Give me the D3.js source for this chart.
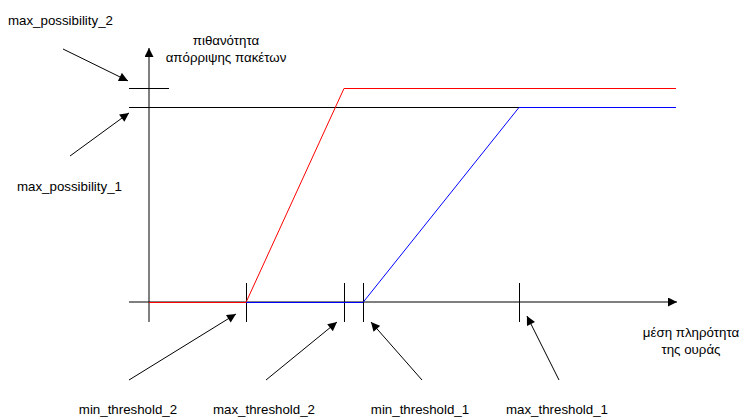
<!DOCTYPE html>
<html>
<head>
<meta charset="utf-8">
<script src="https://cdn.jsdelivr.net/npm/d3@7"></script>
<style>
	body { margin: 0; background: #fff; }
	text { font-family: Arial, "Liberation Sans", sans-serif; font-size: 13.3px; fill: #000; }
</style>
</head>
<body>
<div id="plot"></div>
<script>

///////////////////////////////////////////////////////////////////////
// values (queue fill on x, drop probability on y)

const thresholds = [
	{ name: "min_threshold_2", value: 18.4 },
	{ name: "max_threshold_2", value: 37.0 },
	{ name: "min_threshold_1", value: 40.6 },
	{ name: "max_threshold_1", value: 70.2 }
];
const possibilities = [
	{ name: "max_possibility_1", value: 0.768 },
	{ name: "max_possibility_2", value: 0.843 }
];
const x_end = 100;		// right end of the curves
const y_title = [ "πιθανότητα", "απόρριψης πακέτων" ];
const x_title = [ "μέση πληρότητα", "της ουράς" ];

// curve 2 (red) and curve 1 (blue)
const red_x = [ 0, 18.4, 37.0, 100 ];
const red_y = [ 0, 0, 0.843, 0.843 ];
const blue_x = [ 0, 40.6, 70.2, 100 ];
const blue_y = [ 0, 0, 0.768, 0.768 ];

///////////////////////////////////////////////////////////////////////

const width = 743, height = 417;

let svg = d3.select( "#plot" )
	.append( "svg" )
		.attr( "width", width )
		.attr( "height", height );

let x = d3.scaleLinear().domain( [ 0, x_end ] ).range( [ 149, 676 ] );
let y = d3.scaleLinear().domain( [ 0, 1 ] ).range( [ 302, 48 ] );

let x0 = x( 0 ), y0 = y( 0 );

let defs = svg.append( "defs" );
defs.append( "marker" )
	.attr( "id", "head" )
	.attr( "viewBox", "0 0 10 10" )
	.attr( "refX", 10 )
	.attr( "refY", 5 )
	.attr( "markerUnits", "userSpaceOnUse" )
	.attr( "markerWidth", 10 )
	.attr( "markerHeight", 9 )
	.attr( "orient", "auto" )
	.append( "path" )
		.attr( "d", "M0,0 L10,5 L0,10 z" )
		.attr( "fill", "#000" );

let g = svg.append( "g" );

// axes
g.append( "line" )
	.attr( "x1", x0 - 20 ).attr( "y1", y0 )
	.attr( "x2", x( x_end ) + 1 ).attr( "y2", y0 )
	.attr( "stroke", "#000" ).attr( "stroke-width", 1 )
	.attr( "marker-end", "url(#head)" );

g.append( "line" )
	.attr( "x1", x0 ).attr( "y1", y0 + 20 )
	.attr( "x2", x0 ).attr( "y2", y( 1 ) )
	.attr( "stroke", "#000" ).attr( "stroke-width", 1 )
	.attr( "marker-end", "url(#head)" );

// x ticks
g.selectAll( ".xtick" )
	.data( thresholds )
	.join( "line" )
		.attr( "class", "xtick" )
		.attr( "x1", d => Math.round( x( d.value ) ) + 0.5 )
		.attr( "x2", d => Math.round( x( d.value ) ) + 0.5 )
		.attr( "y1", y0 - 19 )
		.attr( "y2", y0 + 20 )
		.attr( "stroke", "#000" );

// y ticks: possibility 2 is a short tick, possibility 1 runs to max_threshold_1
g.append( "line" )
	.attr( "x1", x0 - 20 ).attr( "x2", x0 + 20 )
	.attr( "y1", Math.round( y( possibilities[ 1 ].value ) ) + 0.5 )
	.attr( "y2", Math.round( y( possibilities[ 1 ].value ) ) + 0.5 )
	.attr( "stroke", "#000" );

g.append( "line" )
	.attr( "x1", x0 - 20 ).attr( "x2", x( thresholds[ 3 ].value ) )
	.attr( "y1", Math.round( y( possibilities[ 0 ].value ) ) + 0.5 )
	.attr( "y2", Math.round( y( possibilities[ 0 ].value ) ) + 0.5 )
	.attr( "stroke", "#000" );

// curves
let line = d3.line()
	.x( d => x( d[ 0 ] ) )
	.y( d => Math.round( y( d[ 1 ] ) ) + 0.5 );

g.append( "path" )
	.datum( d3.zip( blue_x, blue_y ) )
	.attr( "d", line )
	.attr( "fill", "none" )
	.attr( "stroke", "#0000ff" )
	.attr( "stroke-width", 1 );

g.append( "path" )
	.datum( d3.zip( red_x, red_y ) )
	.attr( "d", line )
	.attr( "fill", "none" )
	.attr( "stroke", "#ff0000" )
	.attr( "stroke-width", 1 );

// axis titles
g.append( "text" )
	.attr( "text-anchor", "middle" )
	.selectAll( "tspan" )
	.data( y_title )
	.join( "tspan" )
		.attr( "x", 226 )
		.attr( "y", ( d, i ) => 45 + i * 17 )
		.text( d => d );

g.append( "text" )
	.attr( "text-anchor", "middle" )
	.selectAll( "tspan" )
	.data( x_title )
	.join( "tspan" )
		.attr( "x", 691 )
		.attr( "y", ( d, i ) => 337 + i * 17 )
		.text( d => d );

// threshold annotations: label below, arrow up to the tick
let th_ann = [
	{ lx: 128, tip: [ -10, 12 ] },
	{ lx: 264, tip: [ -7, 20 ] },
	{ lx: 420, tip: [ 8, 20 ] },
	{ lx: 557, tip: [ 8, 14 ] }
];

thresholds.forEach( ( d, i ) => {

	let a = th_ann[ i ];
	let tx = x( d.value ) + a.tip[ 0 ];
	let ty = y0 + a.tip[ 1 ];

	g.append( "line" )
		.attr( "x1", a.lx + ( i == 0 ? 1 : 2 ) ).attr( "y1", 380 )
		.attr( "x2", tx ).attr( "y2", ty )
		.attr( "stroke", "#000" )
		.attr( "marker-end", "url(#head)" );

	g.append( "text" )
		.attr( "x", a.lx )
		.attr( "y", 414 )
		.attr( "text-anchor", "middle" )
		.text( d.name );
} );

// possibility annotations
let p_ann = [
	{ lx: 17, ly: 191, from: [ 70, 156 ], tip: [ -20, 6 ] },
	{ lx: 8, ly: 25, from: [ 63, 49 ], tip: [ -21, -7 ] }
];

possibilities.forEach( ( d, i ) => {

	let a = p_ann[ i ];

	g.append( "line" )
		.attr( "x1", a.from[ 0 ] ).attr( "y1", a.from[ 1 ] )
		.attr( "x2", x0 + a.tip[ 0 ] ).attr( "y2", y( d.value ) + a.tip[ 1 ] )
		.attr( "stroke", "#000" )
		.attr( "marker-end", "url(#head)" );

	g.append( "text" )
		.attr( "x", a.lx )
		.attr( "y", a.ly )
		.text( d.name );
} );

</script>
</body>
</html>
